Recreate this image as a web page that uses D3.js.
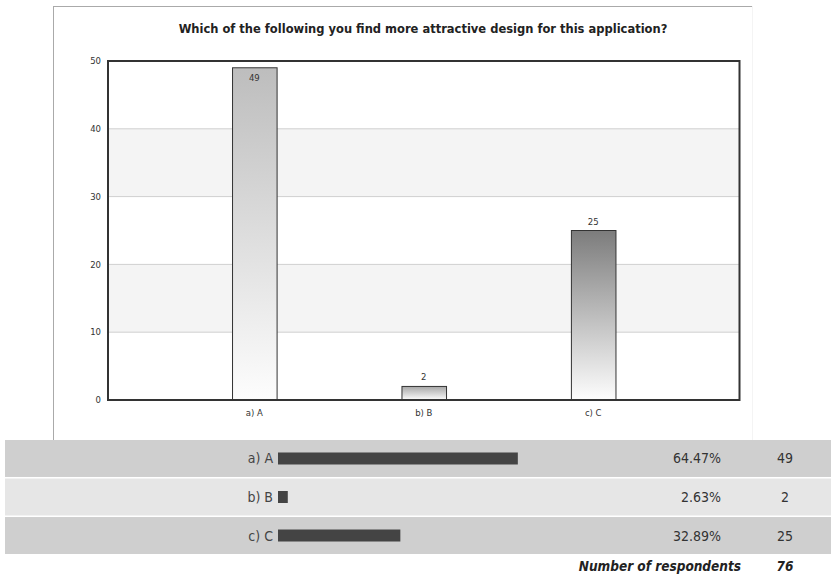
<!DOCTYPE html>
<html>
<head>
<meta charset="utf-8">
<script src="https://cdn.jsdelivr.net/npm/d3@7"></script>
<style>
  body { margin: 0; background: #fff; }
  text { font-family: "DejaVu Sans", Verdana, sans-serif; }
  .tbl { font-family: "DejaVu Sans Condensed", "DejaVu Sans", sans-serif; font-stretch: condensed; }
</style>
</head>
<body>
<div id="chart"></div>
<script>
const categories = ["a) A", "b) B", "c) C"];
const counts = [49, 2, 25];
const percents = [64.47, 2.63, 32.89];
const yTicks = [0, 10, 20, 30, 40, 50];
const respondents = 76;
const title = "Which of the following you find more attractive design for this application?";
const barTops = ["#bdbdbd", "#a6a6a6", "#7c7c7c"];

const width = 833;
const height = 576;
const plot = {left: 108, right: 739.5, top: 61, bottom: 400};

const svg = d3.select("#chart")
    .append("svg")
    .attr("width", width)
    .attr("height", height);

// gradients for the bars
const defs = svg.append("defs");
barTops.forEach(function(c, i) {
    const g = defs.append("linearGradient")
        .attr("id", "grad" + i)
        .attr("x1", 0).attr("y1", 0).attr("x2", 0).attr("y2", 1);
    g.append("stop").attr("offset", "0%").attr("stop-color", c);
    g.append("stop").attr("offset", "100%").attr("stop-color", "#fdfdfd");
});

// panel frame
svg.append("line").attr("x1", 53).attr("y1", 6.5).attr("x2", 753).attr("y2", 6.5)
    .attr("stroke", "#aaa");
svg.append("line").attr("x1", 53.5).attr("y1", 6).attr("x2", 53.5).attr("y2", 440)
    .attr("stroke", "#aaa");
svg.append("line").attr("x1", 752.5).attr("y1", 6).attr("x2", 752.5).attr("y2", 440)
    .attr("stroke", "#f4f4f4");

svg.append("text")
    .attr("x", 423)
    .attr("y", 33)
    .attr("text-anchor", "middle")
    .attr("font-size", "11.5px")
    .attr("font-weight", "bold")
    .attr("fill", "#222")
    .text(title);

// Scales
const xScale = d3.scaleBand()
    .domain(categories)
    .range([plot.left, plot.right])
    .paddingInner(0.737)
    .paddingOuter(0.732);

const yScale = d3.scaleLinear()
    .domain([0, 50])
    .range([plot.bottom, plot.top]);

// alternating bands
svg.selectAll(".band")
    .data(yTicks.slice(0, -1))
    .enter()
    .append("rect")
    .attr("x", plot.left)
    .attr("width", plot.right - plot.left)
    .attr("y", function(d) { return yScale(d + 10); })
    .attr("height", function(d) { return yScale(d) - yScale(d + 10); })
    .attr("fill", function(d, i) { return i % 2 ? "#f4f4f4" : "#fff"; });

// grid
svg.selectAll(".grid")
    .data(yTicks.slice(1, -1))
    .enter()
    .append("line")
    .attr("x1", plot.left).attr("x2", plot.right)
    .attr("y1", function(d) { return yScale(d); })
    .attr("y2", function(d) { return yScale(d); })
    .attr("stroke", "#cfcfcf");

// y axis labels
const yAxis = svg.append("g")
    .attr("transform", `translate(${plot.left},0)`)
    .call(d3.axisLeft(yScale).tickValues(yTicks).tickSize(0).tickPadding(7));
yAxis.select(".domain").remove();
yAxis.selectAll("text")
    .attr("font-family", "DejaVu Sans, sans-serif")
    .attr("font-size", "8.5px")
    .attr("fill", "#333");

// bars
svg.selectAll(".bar")
    .data(counts)
    .enter()
    .append("rect")
    .attr("x", function(d, i) { return xScale(categories[i]) + 0.5; })
    .attr("y", function(d) { return yScale(d); })
    .attr("width", xScale.bandwidth())
    .attr("height", function(d) { return yScale(0) - yScale(d); })
    .attr("fill", function(d, i) { return "url(#grad" + i + ")"; })
    .attr("stroke", "#333")
    .attr("stroke-width", 1);

svg.selectAll(".val")
    .data(counts)
    .enter()
    .append("text")
    .attr("x", function(d, i) { return xScale(categories[i]) + xScale.bandwidth() / 2; })
    .attr("y", function(d) { return yScale(d) > plot.top + 15 ? yScale(d) - 6 : yScale(d) + 13; })
    .attr("text-anchor", "middle")
    .attr("font-size", "8.5px")
    .attr("fill", "#333")
    .text(function(d) { return d; });

// frame
svg.append("rect")
    .attr("x", plot.left).attr("y", plot.top)
    .attr("width", plot.right - plot.left)
    .attr("height", plot.bottom - plot.top)
    .attr("fill", "none")
    .attr("stroke", "#333")
    .attr("stroke-width", 2);

// x axis labels
const xAxis = svg.append("g")
    .attr("transform", `translate(0,${plot.bottom})`)
    .call(d3.axisBottom(xScale).tickSize(0).tickPadding(10));
xAxis.select(".domain").remove();
xAxis.selectAll("text")
    .attr("font-family", "DejaVu Sans, sans-serif")
    .attr("font-size", "8.5px")
    .attr("fill", "#333");

// Table
const rowY = d3.scaleBand()
    .domain(categories)
    .range([440, 554])
    .paddingInner(0.04);

const pctScale = d3.scaleLinear().domain([0, 100]).range([0, 372]);

const rows = svg.selectAll(".row")
    .data(categories)
    .enter()
    .append("g")
    .attr("class", "tbl")
    .attr("transform", function(d) { return `translate(0,${rowY(d)})`; });

rows.append("rect")
    .attr("x", 5).attr("width", 826)
    .attr("height", rowY.bandwidth())
    .attr("fill", function(d, i) { return i % 2 ? "#e6e6e6" : "#cfcfcf"; });

const mid = rowY.bandwidth() / 2;

rows.append("text")
    .attr("x", 273).attr("y", mid + 5)
    .attr("text-anchor", "end")
    .attr("font-size", "14px")
    .attr("fill", "#444")
    .text(function(d) { return d; });

rows.append("rect")
    .attr("x", 278).attr("y", mid - 6)
    .attr("height", 12)
    .attr("width", function(d, i) { return pctScale(percents[i]); })
    .attr("fill", "#444");

rows.append("text")
    .attr("x", 721).attr("y", mid + 5)
    .attr("text-anchor", "end")
    .attr("font-size", "14px")
    .attr("fill", "#333")
    .text(function(d, i) { return percents[i].toFixed(2) + "%"; });

rows.append("text")
    .attr("x", 785).attr("y", mid + 5)
    .attr("text-anchor", "middle")
    .attr("font-size", "14px")
    .attr("fill", "#333")
    .text(function(d, i) { return counts[i]; });

svg.append("text")
    .attr("class", "tbl")
    .attr("x", 741).attr("y", 571)
    .attr("text-anchor", "end")
    .attr("font-size", "13.5px")
    .attr("font-weight", "bold")
    .attr("font-style", "italic")
    .attr("fill", "#222")
    .text("Number of respondents");

svg.append("text")
    .attr("class", "tbl")
    .attr("x", 785).attr("y", 571)
    .attr("text-anchor", "middle")
    .attr("font-size", "13.5px")
    .attr("font-weight", "bold")
    .attr("font-style", "italic")
    .attr("fill", "#222")
    .text(respondents);
</script>
</body>
</html>
